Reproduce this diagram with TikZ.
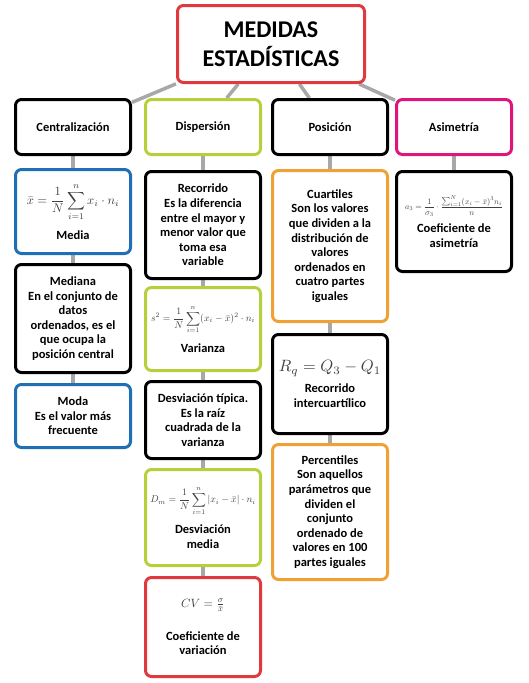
\documentclass[tikz,border=0pt]{standalone}
\usepackage{amsmath}
\usepackage{graphicx}
\usepackage[no-math]{fontspec}
\setmainfont{Carlito}
\usepackage{tikz}
\usetikzlibrary{backgrounds}
\definecolor{rojo}{HTML}{E0393E}
\definecolor{lima}{HTML}{B8CF3C}
\definecolor{azul}{HTML}{1F6FB5}
\definecolor{naranja}{HTML}{F0A136}
\definecolor{rosa}{HTML}{E0157B}
\definecolor{gris}{HTML}{A8A8A8}
\definecolor{fgris}{HTML}{404040}
\newcommand{\fml}[2]{{\color{fgris}\fontsize{10}{12}\selectfont\scalebox{#1}{$\displaystyle #2$}}}

\begin{document}
\begin{tikzpicture}[x=1pt, y=-1pt,
          box/.style={rectangle, rounded corners=6pt, line width=3pt,
                      fill=white, align=center, inner sep=0pt,
                      font=\bfseries\fontsize{12.5}{14.6}\selectfont,
                      minimum width=115pt},
          conn/.style={line width=3.5pt, gris}
        ]
        \useasboundingbox (0,0) rectangle (529,683);
        %% Title
        \node[box, draw=rojo, minimum width=187pt, minimum height=77pt,
              font=\bfseries\fontsize{24}{29}\selectfont]
              (titulo) at (271,44) {MEDIDAS\\ESTADÍSTICAS};
        %% Groups
        \node[box, draw=black, minimum height=55pt] (centr) at (73,127) {Centralización};
        \node[box, draw=lima, minimum height=55pt] (disp) at (203,127) {Dispersión};
        \node[box, draw=black, minimum height=55pt] (posic) at (330,127) {Posición};
        \node[box, draw=rosa, minimum height=55pt] (asim) at (454,127) {Asimetría};
        %% Centralización
        \node[box, draw=azul, minimum height=84pt] (media) at (73,211.5)
              {\fml{1.25}{\bar{x}=\frac{1}{N}\sum_{i=1}^{n}x_i\cdot n_i}\\[9pt]Media};
        \node[box, draw=black, minimum height=108pt] (mediana) at (73,318.5)
              {Mediana\\En el conjunto de\\datos\\ordenados, es el\\que ocupa la\\posición central};
        \node[box, draw=azul, minimum height=63pt] (moda) at (73,416)
              {Moda\\Es el valor más\\frecuente};
        %% Dispersión
        \node[box, draw=black, minimum height=107pt] (recorrido) at (203,225)
              {Recorrido\\Es la diferencia\\entre el mayor y\\menor valor que\\toma esa\\variable};
        \node[box, draw=lima, minimum height=83pt] (varianza) at (203,329)
              {\fml{0.98}{s^2=\frac{1}{N}\sum_{i=1}^{n}(x_i-\bar{x})^2\cdot n_i}\\[9pt]Varianza};
        \node[box, draw=black, minimum height=77pt] (desvtip) at (203,420)
              {Desviación típica.\\Es la raíz\\cuadrada de la\\varianza};
        \node[box, draw=lima, minimum height=96pt] (desvmed) at (203,517.5)
              {\fml{0.98}{D_m=\frac{1}{N}\sum_{i=1}^{n}|x_i-\bar{x}|\cdot n_i}\\[9pt]Desviación\\media};
        \node[box, draw=rojo, minimum height=99pt] (cv) at (203,627)
              {\fml{1.2}{CV=\textstyle\frac{\sigma}{\bar{x}}}\\[18pt]Coeficiente de\\variación};
        %% Posición
        \node[box, draw=naranja, minimum height=151pt] (cuartiles) at (330,246)
              {Cuartiles\\Son los valores\\que dividen a la\\distribución de\\valores\\ordenados en\\cuatro partes\\iguales};
        \node[box, draw=black, minimum height=99pt] (rangoq) at (330,384)
              {\fml{1.64}{R_q=Q_3-Q_1}\\[6pt]Recorrido\\intercuartílico};
        \node[box, draw=naranja, minimum height=135pt] (percentiles) at (330,512)
              {Percentiles\\Son aquellos\\parámetros que\\dividen el\\conjunto\\ordenado de\\valores en 100\\partes iguales};
        %% Asimetría
        \node[box, draw=black, minimum height=100pt] (coefasim) at (454,221.5)
              {\fml{0.83}{a_3=\frac{1}{\sigma_3}\cdot\frac{\sum_{i=1}^{N}(x_i-\bar{x})^3 n_i}{n}}\\[6pt]Coeficiente de\\asimetría};
        %% Connectors
        \begin{pgfonlayer}{background}
          \draw[conn] (titulo) -- (centr);
          \draw[conn] (titulo) -- (disp);
          \draw[conn] (titulo) -- (posic);
          \draw[conn] (titulo) -- (asim);
          \draw[conn] (centr) -- (media);
          \draw[conn] (media) -- (mediana);
          \draw[conn] (mediana) -- (moda);
          \draw[conn] (disp) -- (recorrido);
          \draw[conn] (recorrido) -- (varianza);
          \draw[conn] (varianza) -- (desvtip);
          \draw[conn] (desvtip) -- (desvmed);
          \draw[conn] (desvmed) -- (cv);
          \draw[conn] (posic) -- (cuartiles);
          \draw[conn] (cuartiles) -- (rangoq);
          \draw[conn] (rangoq) -- (percentiles);
          \draw[conn] (asim) -- (coefasim);
        \end{pgfonlayer}
      \end{tikzpicture}
\end{document}
